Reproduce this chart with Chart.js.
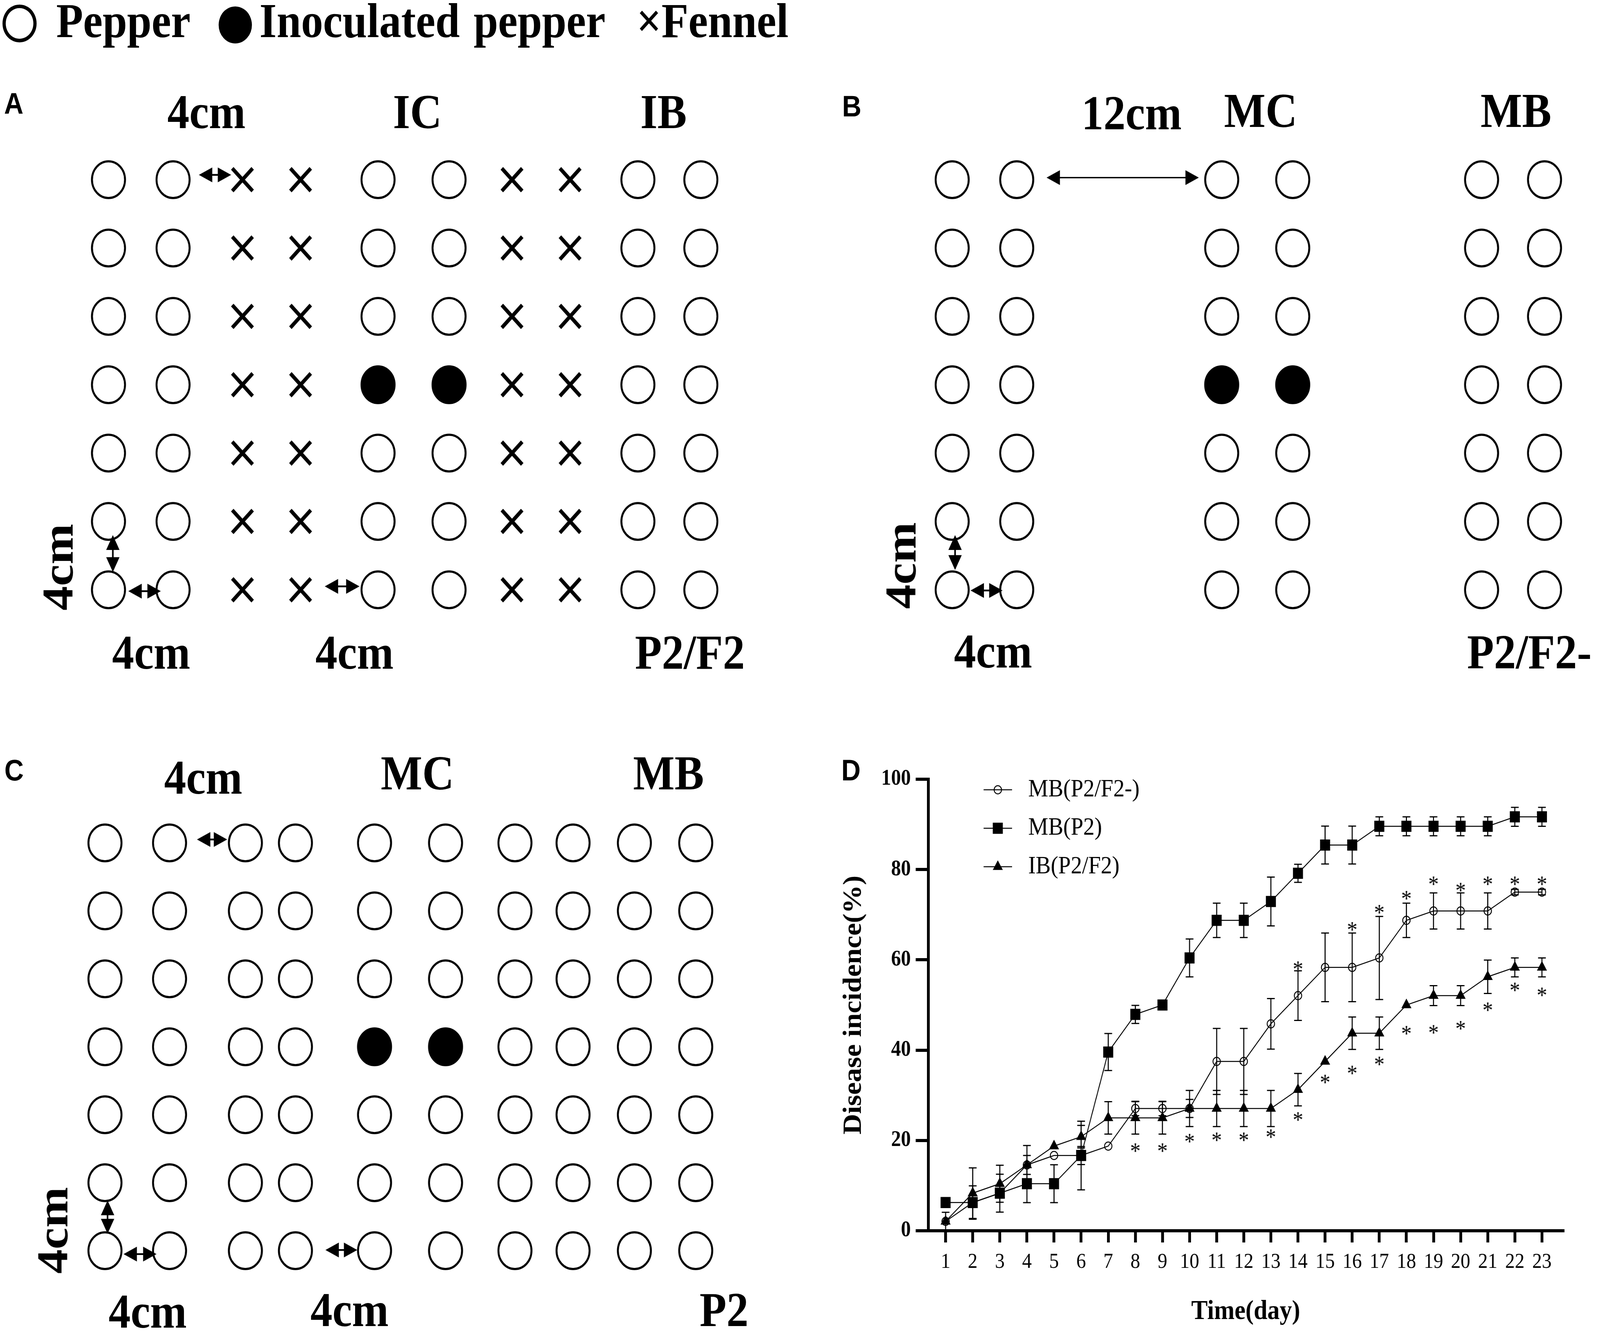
<!DOCTYPE html>
<html>
<head>
<meta charset="utf-8">
<title>Pepper / fennel planting layouts and disease incidence</title>
<script src="https://cdn.jsdelivr.net/npm/chart.js@4.4.1/dist/chart.umd.min.js"></script>
<style>
  html, body { margin: 0; padding: 0; background: #fff; overflow: hidden; }
  #wrap { position: relative; overflow: hidden; }
  #page { position: absolute; left: 0; top: 0; width: 4550px; height: 3423px; background: #fff; transform-origin: 0 0; }
  #page canvas { position: absolute; }
  .lbl { position: absolute; white-space: nowrap; line-height: 1; color: #000;
         font-family: "Liberation Serif", "Times New Roman", serif; font-weight: bold; }
  .panel { position: absolute; line-height: 1; color: #000; transform: translate(-50%, -50%);
           font-family: "Liberation Sans", Arial, sans-serif; font-weight: bold; font-size: 76px; }
</style>
</head>
<body>
<div id="wrap"><div id="page"></div></div>
<script>
// ---------- layout data (planting diagrams, positions in cm / row number) ----------
const rows = [1, 2, 3, 4, 5, 6, 7];
const inoculatedRow = 4;

// A: pepper intercropped with fennel (P2/F2)
const pepperColsA = [0, 4, 16.7, 21.1, 32.8, 36.7];
const fennelColsA = [8.3, 11.9, 25, 28.6];
const inoculatedColsA = [16.7, 21.1];
// B: pepper only, 12 cm gaps (P2/F2-)
const pepperColsB = [0, 4, 16.7, 21.1, 32.8, 36.7];
const inoculatedColsB = [16.7, 21.1];
// C: pepper only (P2)
const pepperColsC = [0, 4, 8.7, 11.8, 16.7, 21.1, 25.4, 29, 32.8, 36.6];
const inoculatedColsC = [16.7, 21.1];

// distance arrows: [x1, row1, x2, row2]
const arrowsA = [[5.6, 0.93, 7.6, 0.93], [0.27, 6.2, 0.27, 6.74], [1.23, 7.02, 3.24, 7.02], [13.4, 6.95, 15.55, 6.95]];
const arrowsB = [[5.85, 0.97, 15.28, 0.97], [0.18, 6.2, 0.18, 6.71], [1.14, 7.01, 3.12, 7.01]];
const arrowsC = [[5.7, 0.95, 7.57, 0.95], [0.16, 6.26, 0.16, 6.75], [1.15, 7.05, 3.19, 7.05], [13.66, 6.99, 15.63, 6.99]];

// ---------- panel D data ----------
const days = [1, 2, 3, 4, 5, 6, 7, 8, 9, 10, 11, 12, 13, 14, 15, 16, 17, 18, 19, 20, 21, 22, 23];
const yTicks = [0, 20, 40, 60, 80, 100];

const mbP2F2minus = [2.08, 6.25, 8.33, 14.58, 16.67, 16.67, 18.75, 27.08, 27.08, 27.08, 37.5, 37.5,
  45.83, 52.08, 58.33, 58.33, 60.42, 68.75, 70.83, 70.83, 70.83, 75, 75];
const mbP2F2minusErr = [2.0, 0, 0, 2.1, 0, 2.0, 0, 1.6, 1.6, 2.0, 7.3, 7.3,
  5.6, 5.5, 7.6, 7.6, 9.2, 3.8, 4.0, 4.0, 4.0, 0.6, 0.6];

const mbP2 = [6.25, 6.25, 8.33, 10.42, 10.42, 16.67, 39.58, 47.92, 50, 60.42, 68.75, 68.75,
  72.92, 79.17, 85.42, 85.42, 89.58, 89.58, 89.58, 89.58, 89.58, 91.67, 91.67];
const mbP2Err = [0, 3.7, 4.2, 4.2, 4.2, 7.6, 4.1, 2.0, 0, 4.2, 3.8, 3.8,
  5.4, 2.0, 4.2, 4.2, 2.1, 2.1, 2.1, 2.1, 2.1, 2.1, 2.1];

const ibP2F2 = [2.08, 8.33, 10.42, 14.58, 18.75, 20.83, 25, 25, 25, 27.08, 27.08, 27.08,
  27.08, 31.25, 37.5, 43.75, 43.75, 50, 52.08, 52.08, 56.25, 58.33, 58.33];
const ibP2F2Err = [0, 5.6, 4.1, 4.3, 0, 2.5, 3.6, 3.6, 3.6, 4.0, 4.0, 4.0,
  4.0, 3.6, 0, 3.6, 3.6, 0, 2.2, 2.2, 3.7, 2.1, 2.1];

// significance asterisks (y position, null = none)
const starsMB = [null, null, null, null, null, null, null, null, null, null, null, null,
  null, 58.7, null, 67.4, 71.2, 74.3, 77.5, 76.1, 77.5, 77.5, 77.5];
const starsIB = [null, null, null, null, null, null, null, 18.4, 18.4, 20.5, 20.8, 20.8,
  21.5, 25.3, 33.6, 35.6, 37.6, 44.4, 44.6, 45.5, 49.6, 54, 52.9];

// ---------- page setup ----------
Chart.defaults.font.family = '"Liberation Serif", "Times New Roman", serif';
Chart.defaults.color = '#000';
const W = 4550, H = 3423;
const page = document.getElementById('page');
const wrap = document.getElementById('wrap');
// the viewport may be narrower than the figure: stretch the figure to fill it
const sx = Math.min(1, window.innerWidth / W), sy = Math.min(1, window.innerHeight / H);
page.style.transform = 'scale(' + sx + ',' + sy + ')';
wrap.style.width = (W * sx) + 'px';
wrap.style.height = (H * sy) + 'px';

function addCanvas(r) {
  const c = document.createElement('canvas');
  c.width = r.width; c.height = r.height;
  c.style.left = r.left + 'px'; c.style.top = r.top + 'px';
  c.style.width = r.width + 'px'; c.style.height = r.height + 'px';
  page.appendChild(c);
  return c;
}

function addText(text, x, y, align, size) {
  const el = document.createElement('div');
  el.className = 'lbl';
  el.textContent = text;
  size = size || 125;
  el.style.fontSize = size + 'px';
  if (align === 'v' || align === 'm') {
    el.style.left = x + 'px'; el.style.top = y + 'px';
    el.style.transform = 'translate(-50%, -50%)' + (align === 'v' ? ' rotate(-90deg)' : '');
  } else {
    el.style.left = x + 'px';
    el.style.top = (y - 0.8375 * size) + 'px';   // y is the baseline
    if (align === 'c') el.style.transform = 'translateX(-50%)';
  }
  page.appendChild(el);
  return el;
}

function addPanel(letter, x, y) {
  const el = document.createElement('div');
  el.className = 'panel';
  el.textContent = letter;
  el.style.left = x + 'px'; el.style.top = y + 'px';
  page.appendChild(el);
}

// ---------- arrows plugin for the diagrams ----------
function arrowHead(ctx, tx, ty, ang, len, half) {
  const bx = tx - Math.cos(ang) * len, by = ty - Math.sin(ang) * len;
  const px = -Math.sin(ang) * half, py = Math.cos(ang) * half;
  ctx.beginPath();
  ctx.moveTo(tx, ty);
  ctx.lineTo(bx + px, by + py);
  ctx.lineTo(bx - px, by - py);
  ctx.closePath();
  ctx.fill();
}

const arrowPlugin = {
  id: 'arrows',
  afterDatasetsDraw(chart, args, opts) {
    const {ctx, scales: {x, y}} = chart;
    ctx.save();
    ctx.fillStyle = '#000';
    ctx.strokeStyle = '#000';
    (opts.items || []).forEach(a => {
      const x1 = x.getPixelForValue(a[0]), y1 = y.getPixelForValue(a[1]);
      const x2 = x.getPixelForValue(a[2]), y2 = y.getPixelForValue(a[3]);
      const ang = Math.atan2(y2 - y1, x2 - x1);
      const long = Math.hypot(x2 - x1, y2 - y1) > 200;
      ctx.lineWidth = long ? 3.5 : 4.5;
      ctx.beginPath();
      ctx.moveTo(x1 + Math.cos(ang) * 20, y1 + Math.sin(ang) * 20);
      ctx.lineTo(x2 - Math.cos(ang) * 20, y2 - Math.sin(ang) * 20);
      ctx.stroke();
      arrowHead(ctx, x2, y2, ang, 38, 19);
      arrowHead(ctx, x1, y1, ang + Math.PI, 38, 19);
    });
    ctx.restore();
  }
};

function diagram(geo, pepperCols, fennelCols, inocCols, arrows) {
  const canvas = addCanvas(geo);
  const peppers = [], sick = [], fennel = [];
  rows.forEach(r => {
    pepperCols.forEach(c => (r === inoculatedRow && inocCols.includes(c) ? sick : peppers).push({x: c, y: r}));
    fennelCols.forEach(c => fennel.push({x: c, y: r}));
  });
  const xMin = (geo.left - geo.col0) / geo.cm;
  const yMin = 1 + (geo.top - geo.row1) / geo.rowStep;
  const circle = {pointStyle: 'circle', pointRadius: 47, pointBorderWidth: 5.5, pointBorderColor: '#000', clip: false};
  return new Chart(canvas, {
    type: 'scatter',
    data: {
      datasets: [
        Object.assign({label: 'Pepper', data: peppers, pointBackgroundColor: 'rgba(255,255,255,0)'}, circle),
        Object.assign({label: 'Inoculated pepper', data: sick, pointBackgroundColor: '#000'}, circle),
        {label: 'Fennel', data: fennel, pointStyle: 'crossRot', pointRadius: 41, pointBorderWidth: 10,
         pointBorderColor: '#000', clip: false}
      ]
    },
    options: {
      responsive: false, animation: false, devicePixelRatio: 1, events: [],
      layout: {padding: 0, autoPadding: false},
      scales: {
        x: {type: 'linear', display: false, min: xMin, max: xMin + geo.width / geo.cm},
        y: {type: 'linear', display: false, reverse: true, min: yMin, max: yMin + geo.height / geo.rowStep}
      },
      plugins: {legend: {display: false}, tooltip: {enabled: false}, arrows: {items: arrows}}
    },
    plugins: [arrowPlugin]
  });
}

diagram({left: 100, top: 250, width: 2050, height: 1450, col0: 308.5, row1: 460, cm: 45.9, rowStep: 175},
  pepperColsA, fennelColsA, inoculatedColsA, arrowsA);
diagram({left: 2480, top: 250, width: 2070, height: 1450, col0: 2707.7, row1: 460, cm: 45.9, rowStep: 175},
  pepperColsB, [], inoculatedColsB, arrowsB);
diagram({left: 100, top: 1950, width: 2050, height: 1400, col0: 298.5, row1: 2158, cm: 45.9, rowStep: 174},
  pepperColsC, [], inoculatedColsC, arrowsC);

// ---------- texts ----------
const sym = addText('\u25CB', 55.5, 52, 'm', 220); sym.style.fontWeight = 'normal';
addText('Pepper', 160, 96, 'l');
const sym2 = addText('\u25CF', 669, 52, 'm', 220); sym2.style.fontWeight = 'normal';
const inoc = addText('Inoculated pepper', 738, 96, 'l'); inoc.style.wordSpacing = '8px';
addText('\u00D7Fennel', 1810, 96, 'l');

addPanel('A', 39, 265);
addPanel('B', 2422, 272);
addPanel('C', 40, 1972);
addPanel('D', 2420, 1972);

addText('4cm', 587, 329, 'c'); addText('IC', 1187, 329, 'c'); addText('IB', 1887, 329, 'c');
addText('4cm', 430, 1713, 'c'); addText('4cm', 1008, 1713, 'c'); addText('P2/F2', 1962, 1713, 'c');
addText('4cm', 165, 1452, 'v');

addText('12cm', 3218, 332, 'c'); addText('MC', 3585, 326, 'c'); addText('MB', 4311, 326, 'c');
addText('4cm', 2824, 1710, 'c'); addText('P2/F2-', 4172, 1712, 'l');
addText('4cm', 2562, 1448, 'v');

addText('4cm', 578, 2033, 'c'); addText('MC', 1187, 2022, 'c'); addText('MB', 1901, 2022, 'c');
addText('4cm', 420, 3400, 'c'); addText('4cm', 994, 3396, 'c'); addText('P2', 2059, 3396, 'c');
addText('4cm', 150, 3150, 'v');

// ---------- panel D ----------
function starImage() {
  const c = document.createElement('canvas');
  c.width = 60; c.height = 60;
  const g = c.getContext('2d');
  g.font = '60px "Liberation Serif"';
  g.textAlign = 'center';
  g.textBaseline = 'alphabetic';
  const m = g.measureText('*');
  g.fillStyle = '#000';
  g.fillText('*', 30, 30 + (m.actualBoundingBoxAscent - m.actualBoundingBoxDescent) / 2);
  return c;
}
const star = starImage();

function pts(vals) { return days.map((d, i) => ({x: d, y: vals[i]})); }
function starPts(vals) { return days.map((d, i) => vals[i] == null ? null : {x: d, y: vals[i]}).filter(Boolean); }

const errorBarPlugin = {
  id: 'errorBars',
  beforeDatasetsDraw(chart) {
    const {ctx, scales: {x, y}} = chart;
    ctx.save();
    ctx.strokeStyle = '#000';
    chart.data.datasets.forEach(ds => {
      if (!ds.errors) return;
      ds.data.forEach((p, i) => {
        const e = ds.errors[i];
        if (!e) return;
        const px = x.getPixelForValue(p.x);
        const top = y.getPixelForValue(p.y + e), bot = y.getPixelForValue(p.y - e);
        ctx.lineWidth = 3;
        ctx.beginPath();
        ctx.moveTo(px, top); ctx.lineTo(px, bot);
        ctx.moveTo(px - 11, top); ctx.lineTo(px + 11, top);
        ctx.moveTo(px - 11, bot); ctx.lineTo(px + 11, bot);
        ctx.stroke();
      });
    });
    ctx.restore();
  }
};

function legendMarker(ctx, ds, x, y) {
  const r = ds.pointRadius;
  ctx.beginPath();
  if (ds.pointStyle === 'circle') {
    ctx.arc(x, y, r, 0, Math.PI * 2);
  } else if (ds.pointStyle === 'rect') {
    const s = r * Math.SQRT1_2;
    ctx.rect(x - s, y - s, 2 * s, 2 * s);
  } else {
    for (let k = 0; k < 3; k++) {
      const a = k * Math.PI * 2 / 3;
      ctx[k ? 'lineTo' : 'moveTo'](x + Math.sin(a) * r, y - Math.cos(a) * r);
    }
    ctx.closePath();
  }
  ctx.fillStyle = ds.pointBackgroundColor;
  ctx.fill();
  ctx.lineWidth = ds.pointBorderWidth;
  ctx.strokeStyle = '#000';
  ctx.stroke();
}

const seriesLegend = {
  id: 'seriesLegend',
  afterDraw(chart, args, o) {
    const {ctx} = chart;
    ctx.save();
    let k = 0;
    chart.data.datasets.forEach(ds => {
      if (!ds.inLegend) return;
      const y = o.top + k * o.gap;
      ctx.strokeStyle = '#000';
      ctx.lineWidth = ds.borderWidth;
      ctx.beginPath();
      ctx.moveTo(o.left, y); ctx.lineTo(o.left + o.lineLen, y);
      ctx.stroke();
      legendMarker(ctx, ds, o.left + o.lineLen / 2, y);
      ctx.fillStyle = '#000';
      ctx.font = o.size + 'px "Liberation Serif"';
      ctx.textBaseline = 'middle';
      ctx.textAlign = 'left';
      ctx.fillText(ds.label, o.textX, y);
      k++;
    });
    ctx.restore();
  }
};

const line = {type: 'line', borderColor: '#000', borderWidth: 2.5, tension: 0, pointBorderColor: '#000',
  pointBorderWidth: 2.5, inLegend: true, clip: false};

new Chart(addCanvas({left: 2300, top: 1900, width: 2250, height: 1523}), {
  type: 'line',
  data: {
    datasets: [
      Object.assign({label: 'MB(P2/F2-)', data: pts(mbP2F2minus), errors: mbP2F2minusErr,
        pointStyle: 'circle', pointRadius: 10.5, pointBackgroundColor: 'rgba(255,255,255,0)'}, line),
      Object.assign({label: 'MB(P2)', data: pts(mbP2), errors: mbP2Err,
        pointStyle: 'rect', pointRadius: 18.4, pointBackgroundColor: '#000'}, line),
      Object.assign({label: 'IB(P2/F2)', data: pts(ibP2F2), errors: ibP2F2Err,
        pointStyle: 'triangle', pointRadius: 14, pointBackgroundColor: '#000'}, line),
      {type: 'scatter', label: 'MB(P2/F2-) vs MB(P2)', data: starPts(starsMB), pointStyle: star, pointRadius: 12, showLine: false},
      {type: 'scatter', label: 'IB(P2/F2) vs MB(P2)', data: starPts(starsIB), pointStyle: star, pointRadius: 12, showLine: false}
    ]
  },
  options: {
    responsive: false, animation: false, devicePixelRatio: 1, events: [],
    layout: {padding: {left: 0, top: 95, right: 105, bottom: 0}, autoPadding: false},
    scales: {
      x: {
        type: 'linear', min: 0.364, max: 23.78,
        afterBuildTicks: s => { s.ticks = days.map(v => ({value: v})); },
        afterFit: s => { s.height = 272; },
        border: {display: true, color: '#000', width: 8},
        grid: {display: true, drawOnChartArea: false, drawTicks: true, tickLength: 30, tickWidth: 8,
               tickColor: '#000', color: '#000', lineWidth: 8},
        ticks: {autoSkip: false, maxRotation: 0, padding: 18, color: '#000', font: {size: 55}},
        title: {display: true, text: 'Time(day)', color: '#000', font: {size: 70, weight: 'bold'},
                padding: {top: 0, bottom: 22}}
      },
      y: {
        type: 'linear', min: 0, max: 100,
        afterBuildTicks: s => { s.ticks = yTicks.map(v => ({value: v})); },
        afterFit: s => { s.width = 340; },
        border: {display: true, color: '#000', width: 8},
        grid: {display: true, drawOnChartArea: false, drawTicks: true, tickLength: 36, tickWidth: 8,
               tickColor: '#000', color: '#000', lineWidth: 8},
        ticks: {padding: 14, color: '#000', font: {size: 56, weight: 'bold'}},
        title: {display: true, text: 'Disease incidence(%)', color: '#000', font: {size: 73, weight: 'bold'},
                padding: {top: 85, bottom: 0}}
      }
    },
    plugins: {
      legend: {display: false}, tooltip: {enabled: false},
      seriesLegend: {left: 497, lineLen: 81, textX: 624, top: 122, gap: 98.5, size: 64}
    }
  },
  plugins: [errorBarPlugin, seriesLegend]
});
</script>
</body>
</html>
